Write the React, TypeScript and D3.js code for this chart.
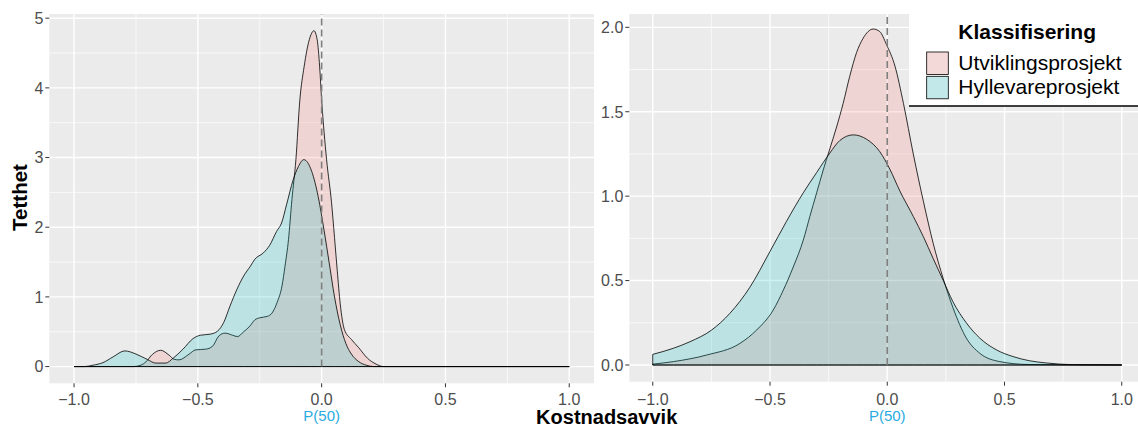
import * as d3 from "d3";

// axis breaks
const xTicks = [-1, -0.5, 0, 0.5, 1];
const xMinor = [-0.75, -0.25, 0.25, 0.75];
const leftYTicks = [0, 1, 2, 3, 4, 5];
const leftYMinor = [0.5, 1.5, 2.5, 3.5, 4.5];
const rightYTicks = [0, 0.5, 1, 1.5, 2];
const rightYMinor = [0.25, 0.75, 1.25, 1.75];

const categories = ["Utviklingsprosjekt", "Hyllevareprosjekt"];
const fills = ["#F8766D", "#00BFC4"];

// densities: [kostnadsavvik, tetthet]
const leftUtvikling = [
  [-1.0, 0], [-0.76, 0], [-0.73, 0.02], [-0.71, 0.067], [-0.683, 0.177], [-0.65, 0.234],
  [-0.616, 0.163], [-0.596, 0.105], [-0.576, 0.096], [-0.536, 0.177], [-0.509, 0.24],
  [-0.468, 0.25], [-0.441, 0.29], [-0.415, 0.44], [-0.39, 0.48], [-0.36, 0.45], [-0.34, 0.43],
  [-0.315, 0.5], [-0.29, 0.58], [-0.27, 0.67], [-0.25, 0.7], [-0.22, 0.72], [-0.2, 0.77],
  [-0.18, 0.92], [-0.16, 1.16], [-0.148, 1.44], [-0.134, 1.82], [-0.12, 2.4], [-0.104, 2.97],
  [-0.088, 3.83], [-0.071, 4.3], [-0.05, 4.69], [-0.031, 4.82], [-0.018, 4.69], [-0.008, 4.3],
  [0.0, 3.83], [0.02, 2.97], [0.04, 2.35], [0.052, 1.85], [0.063, 1.38], [0.075, 0.9],
  [0.092, 0.53], [0.12, 0.39], [0.15, 0.27], [0.185, 0.12], [0.22, 0.035], [0.25, 0], [1.0, 0],
];
const leftHyllevare = [
  [-1.0, 0], [-0.957, 0], [-0.923, 0.02], [-0.883, 0.057], [-0.842, 0.14], [-0.795, 0.225],
  [-0.75, 0.18], [-0.703, 0.1], [-0.67, 0.05], [-0.63, 0.05], [-0.6, 0.12], [-0.56, 0.25],
  [-0.52, 0.4], [-0.49, 0.45], [-0.45, 0.465], [-0.42, 0.51], [-0.396, 0.63], [-0.37, 0.87],
  [-0.342, 1.11], [-0.315, 1.3], [-0.288, 1.44], [-0.27, 1.54], [-0.236, 1.63], [-0.21, 1.74],
  [-0.182, 1.94], [-0.162, 2.06], [-0.142, 2.32], [-0.115, 2.68], [-0.094, 2.87], [-0.072, 2.97],
  [-0.04, 2.8], [-0.014, 2.44], [0.01, 1.95], [0.03, 1.5], [0.052, 1.0], [0.075, 0.6],
  [0.098, 0.33], [0.12, 0.18], [0.15, 0.07], [0.18, 0.02], [0.21, 0], [1.0, 0],
];
const rightUtvikling = [
  [-1.0, 0.005], [-0.912, 0.02], [-0.77, 0.059], [-0.628, 0.128], [-0.557, 0.207], [-0.486, 0.326],
  [-0.443, 0.444], [-0.401, 0.58], [-0.358, 0.74], [-0.33, 0.88], [-0.301, 1.02], [-0.273, 1.155],
  [-0.245, 1.28], [-0.216, 1.41], [-0.188, 1.55], [-0.16, 1.71], [-0.131, 1.85], [-0.103, 1.935],
  [-0.06, 1.99], [-0.032, 1.975], [-0.004, 1.9], [0.033, 1.77], [0.069, 1.55], [0.111, 1.25],
  [0.154, 0.97], [0.196, 0.72], [0.239, 0.51], [0.28, 0.34], [0.337, 0.16], [0.394, 0.07],
  [0.48, 0.02], [0.6, 0.003], [1.0, 0],
];
const rightHyllevare = [
  [-1.0, 0.063], [-0.912, 0.099], [-0.841, 0.138], [-0.749, 0.207], [-0.671, 0.306],
  [-0.586, 0.46], [-0.501, 0.67], [-0.43, 0.85], [-0.358, 1.02], [-0.301, 1.14], [-0.245, 1.255],
  [-0.202, 1.33], [-0.145, 1.363], [-0.088, 1.337], [-0.032, 1.264], [0.011, 1.16],
  [0.054, 1.03], [0.111, 0.88], [0.154, 0.76], [0.196, 0.63], [0.239, 0.5], [0.28, 0.375],
  [0.337, 0.25], [0.394, 0.16], [0.465, 0.09], [0.536, 0.05], [0.607, 0.025], [0.678, 0.012],
  [0.79, 0.002], [1.0, 0],
];

const font = "'Liberation Sans', Arial, sans-serif";
const fmtX = d3.format(".1f");

function Panel({ xRange, yRange, yDomain, yTicks, yMinor, fmtY, series }) {
  const x = d3.scaleLinear([-1.1, 1.1], xRange);
  const y = d3.scaleLinear(yDomain, yRange);
  const [left, right] = xRange;
  const [bottom, top] = yRange;
  const area = d3
    .area()
    .x((d) => x(d[0]))
    .y0(y(0))
    .y1((d) => y(d[1]))
    .curve(d3.curveMonotoneX);
  return (
    <g>
      <rect x={left} y={top} width={right - left} height={bottom - top} fill="#EBEBEB" />
      <g stroke="#fff">
        {yMinor.map((t) => (
          <line key={"ym" + t} x1={left} x2={right} y1={y(t)} y2={y(t)} strokeWidth={0.7} />
        ))}
        {xMinor.map((t) => (
          <line key={"xm" + t} x1={x(t)} x2={x(t)} y1={top} y2={bottom} strokeWidth={0.7} />
        ))}
        {yTicks.map((t) => (
          <line key={"y" + t} x1={left} x2={right} y1={y(t)} y2={y(t)} strokeWidth={1.4} />
        ))}
        {xTicks.map((t) => (
          <line key={"x" + t} x1={x(t)} x2={x(t)} y1={top} y2={bottom} strokeWidth={1.4} />
        ))}
      </g>
      {series.map((s, i) => (
        <path
          key={i}
          d={area(s)}
          fill={fills[i]}
          fillOpacity={0.2}
          stroke="#000"
          strokeWidth={0.8}
        />
      ))}
      <line
        x1={x(0)}
        x2={x(0)}
        y1={y(0)}
        y2={top}
        stroke="#7F7F7F"
        strokeWidth={1.6}
        strokeDasharray="7 4"
      />
      <g stroke="#333" strokeWidth={1}>
        {yTicks.map((t) => (
          <line key={"yt" + t} x1={left - 4} x2={left} y1={y(t)} y2={y(t)} />
        ))}
        {xTicks.map((t) => (
          <line key={"xt" + t} x1={x(t)} x2={x(t)} y1={bottom} y2={bottom + 4} />
        ))}
      </g>
      <g fill="#4D4D4D" fontSize={16} fontFamily={font}>
        {yTicks.map((t) => (
          <text key={"yl" + t} x={left - 6} y={y(t)} dy="0.36em" textAnchor="end">
            {fmtY(t)}
          </text>
        ))}
        {xTicks.map((t) => (
          <text key={"xl" + t} x={x(t)} y={405} textAnchor="middle">
            {fmtX(t)}
          </text>
        ))}
      </g>
      <text x={x(0)} y={421} textAnchor="middle" fill="#29ABE2" fontSize={15} fontFamily={font}>
        P(50)
      </text>
    </g>
  );
}

export default function App() {
  const keyFill = (i) => d3.interpolateRgb("#F2F2F2", fills[i])(0.2);
  return (
    <svg
      width={1138}
      height={428}
      style={{ position: "absolute", left: 0, top: 0, background: "#fff" }}
    >
      <Panel
        xRange={[49.3, 594]}
        yRange={[383.3, 14]}
        yDomain={[-0.24, 5.06]}
        yTicks={leftYTicks}
        yMinor={leftYMinor}
        fmtY={d3.format("d")}
        series={[leftUtvikling, leftHyllevare]}
      />
      <Panel
        xRange={[629.3, 1145.2]}
        yRange={[381.7, 14]}
        yDomain={[-0.099, 2.079]}
        yTicks={rightYTicks}
        yMinor={rightYMinor}
        fmtY={d3.format(".1f")}
        series={[rightUtvikling, rightHyllevare]}
      />
      <text
        transform="translate(27,197.5) rotate(-90)"
        textAnchor="middle"
        fontSize={20.5}
        fontWeight="bold"
        fontFamily={font}
      >
        Tetthet
      </text>
      <text x={606.7} y={424} textAnchor="middle" fontSize={20} fontWeight="bold" fontFamily={font}>
        Kostnadsavvik
      </text>
      <g fontFamily={font}>
        <rect x={909} y={0} width={229} height={106} fill="#fff" />
        <line x1={909} x2={1138} y1={106} y2={106} stroke="#000" strokeWidth={1.3} />
        <text x={958.3} y={39.3} fontSize={21} fontWeight="bold">
          Klassifisering
        </text>
        {categories.map((c, i) => (
          <g key={c}>
            <rect
              x={926.7}
              y={52 + i * 24.3}
              width={21.6}
              height={22.5}
              fill={keyFill(i)}
              stroke="#000"
              strokeWidth={0.8}
            />
            <text x={958.3} y={70 + i * 24} fontSize={21}>
              {c}
            </text>
          </g>
        ))}
      </g>
    </svg>
  );
}
